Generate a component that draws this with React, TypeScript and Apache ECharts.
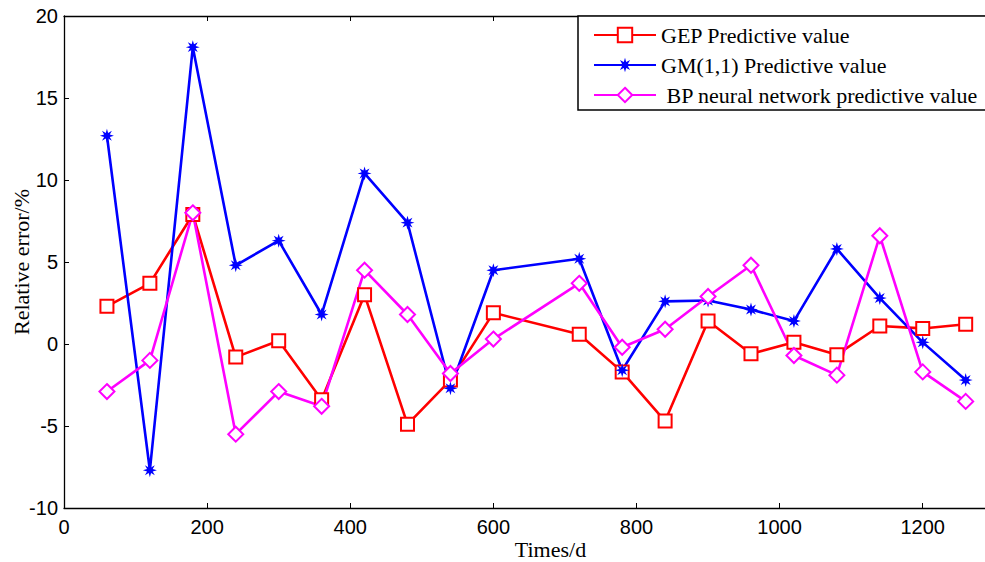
import React, { useEffect, useRef } from "react";
import * as echarts from "echarts";

const times = [60, 120, 180, 240, 300, 360, 420, 480, 540, 600, 720, 780, 840, 900, 960, 1020, 1080, 1140, 1200, 1260];
const gepValues = [2.3, 3.7, 7.9, -0.8, 0.2, -3.4, 3.0, -4.9, -2.2, 1.9, 0.6, -1.7, -4.7, 1.4, -0.6, 0.1, -0.65, 1.1, 0.95, 1.2];
const gmValues = [12.7, -7.7, 18.1, 4.8, 6.3, 1.8, 10.4, 7.4, -2.7, 4.5, 5.2, -1.6, 2.6, 2.65, 2.1, 1.4, 5.8, 2.8, 0.1, -2.2];
const bpValues = [-2.9, -1.0, 8.0, -5.5, -2.9, -3.8, 4.5, 1.8, -1.8, 0.3, 3.7, -0.2, 0.9, 2.9, 4.8, -0.7, -1.9, 6.6, -1.7, -3.5];
const seriesNames = ["GEP Predictive value", "GM(1,1) Predictive value", " BP neural network predictive value"];

const starPath =
  "path://M100,50L70.3,41.6L85.4,14.6L58.4,29.7L50,0L41.6,29.7L14.6,14.6L29.7,41.6L0,50L29.7,58.4L14.6,85.4L41.6,70.3L50,100L58.4,70.3L85.4,85.4L70.3,58.4Z";

const pairs = (ys: number[]) => times.map((t, i) => [t, ys[i]]);

export default function App() {
  const ref = useRef<HTMLDivElement>(null);
  useEffect(() => {
    if (!ref.current) return;
    const chart = echarts.init(ref.current, null, { renderer: "svg" });
    const sans = "'Liberation Sans', Arial, sans-serif";
    const serif = "'Liberation Serif', 'Times New Roman', serif";
    const axisLine = { show: true, onZero: false, lineStyle: { color: "#000", width: 1.3 } };
    const tick = { show: true, inside: true, length: 5, lineStyle: { color: "#000", width: 1 } };
    chart.setOption({
      animation: false,
      backgroundColor: "#fff",
      grid: { left: 64, top: 16, right: 0, bottom: 54, containLabel: false, outerBoundsMode: "none" },
      graphic: [
        {
          type: "rect",
          shape: { x: 578, y: 16, width: 430, height: 94 },
          style: { fill: "#fff", stroke: "#000", lineWidth: 1.5 },
          z: 10,
        },
      ],
      legend: {
        orient: "vertical",
        left: 593,
        top: 24,
        padding: 0,
        itemWidth: 62,
        itemHeight: 18,
        itemGap: 8,
        z: 20,
        data: seriesNames,
        textStyle: { fontFamily: serif, fontSize: 22, color: "#000", lineHeight: 22 },
      },
      xAxis: [
        {
          type: "value",
          min: 0,
          max: 1287,
          interval: 200,
          position: "bottom",
          name: "Times/d",
          nameLocation: "middle",
          nameGap: 30,
          nameMoveOverlap: false,
          nameTextStyle: { fontFamily: serif, fontSize: 22, color: "#000", padding: [0, 0, 0, 52] },
          axisLine,
          axisTick: tick,
          splitLine: { show: false },
          axisLabel: {
            fontFamily: sans,
            fontSize: 20,
            color: "#000",
            margin: 9,
            showMaxLabel: false,
            formatter: (v: number) => String(v),
          },
        },
        {
          type: "value",
          min: 0,
          max: 1287,
          interval: 200,
          position: "top",
          axisLine,
          axisTick: tick,
          splitLine: { show: false },
          axisLabel: { show: false },
        },
      ],
      yAxis: {
        type: "value",
        min: -10,
        max: 20,
        interval: 5,
        name: "Relative error/%",
        nameLocation: "middle",
        nameGap: 32,
        nameMoveOverlap: false,
        nameTextStyle: { fontFamily: serif, fontSize: 22, color: "#000" },
        axisLine,
        axisTick: tick,
        splitLine: { show: false },
        axisLabel: { fontFamily: sans, fontSize: 20, color: "#000", margin: 6, formatter: (v: number) => String(v) },
      },
      series: [
        {
          name: seriesNames[0],
          type: "line",
          data: pairs(gepValues),
          symbol: "emptyRect",
          symbolSize: 13,
          lineStyle: { color: "#ff0000", width: 2.6 },
          itemStyle: { color: "#ff0000", borderWidth: 2.2 },
        },
        {
          name: seriesNames[1],
          type: "line",
          data: pairs(gmValues),
          symbol: starPath,
          symbolSize: 14,
          lineStyle: { color: "#0000ff", width: 2.6 },
          itemStyle: { color: "#0000ff" },
        },
        {
          name: seriesNames[2],
          type: "line",
          data: pairs(bpValues),
          symbol: "emptyDiamond",
          symbolSize: 15,
          lineStyle: { color: "#ff00ff", width: 2.6 },
          itemStyle: { color: "#ff00ff", borderWidth: 2.2 },
        },
      ],
    });
    return () => chart.dispose();
  }, []);
  return (
    <div
      ref={ref}
      style={{ position: "fixed", left: 0, top: 0, width: 985, height: 562 }}
    />
  );
}
